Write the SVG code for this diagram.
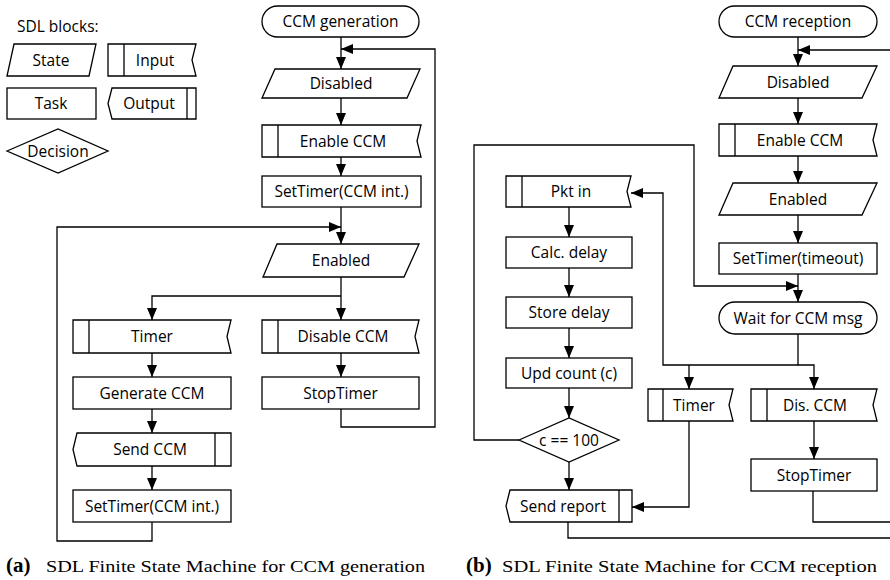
<svg xmlns="http://www.w3.org/2000/svg" width="890" height="580" viewBox="0 0 890 580">
<style>
.s{fill:#fff;stroke:#000;stroke-width:1.3;stroke-linejoin:miter}
.l{fill:none;stroke:#000;stroke-width:1.3}
.t{font-family:"Open Sans","Noto Sans","Liberation Sans",sans-serif;font-size:15.5px;fill:#000;text-anchor:middle}
.cap{font-family:"Liberation Serif","DejaVu Serif",serif;font-size:16px;fill:#000}
.capb{font-family:"Liberation Serif","DejaVu Serif",serif;font-size:21px;font-weight:bold;fill:#000}
</style>
<defs>
<marker id="ah" markerUnits="userSpaceOnUse" markerWidth="12" markerHeight="10" refX="12" refY="5" orient="auto">
<path d="M0,0 L12,5 L0,10 Z" fill="#000"/>
</marker>
</defs>
<rect width="890" height="580" fill="#fff"/>

<!-- Legend -->
<g id="legend">
<text x="17" y="32" class="t" style="text-anchor:start">SDL blocks:</text>
<g id="lg-state"><path class="s" d="M14,44 H96 L89,76 H7 Z"/><text x="51" y="65.5" class="t">State</text></g>
<g id="lg-input"><path class="s" d="M108,44 H196 L192,60 L196,76 H108 Z"/><path class="l" d="M124,44 V76"/><text x="155" y="65.5" class="t">Input</text></g>
<g id="lg-task"><rect class="s" x="7" y="88" width="89" height="31"/><text x="51" y="109" class="t">Task</text></g>
<g id="lg-output"><path class="s" d="M112,88 H196 V119 H112 L108,103.5 Z"/><path class="l" d="M187,88 V119"/><text x="149" y="109" class="t">Output</text></g>
<g id="lg-decision"><path class="s" d="M7,151 L58,129 L108,151 L58,173 Z"/><text x="58" y="156.5" class="t">Decision</text></g>
</g>

<!-- Connectors (a) -->
<g id="connectors-a">
<path class="l" d="M341,37 V69" marker-end="url(#ah)"/>
<path class="l" d="M341,409 V427 H435 V49 H341" marker-end="url(#ah)"/>
<path class="l" d="M341,98 V125" marker-end="url(#ah)"/>
<path class="l" d="M341,157 V176" marker-end="url(#ah)"/>
<path class="l" d="M341,207 V244" marker-end="url(#ah)"/>
<path class="l" d="M152,522 V541 H57 V227 H341" marker-end="url(#ah)"/>
<path class="l" d="M341,277 V320" marker-end="url(#ah)"/>
<path class="l" d="M341,296 H152 V320" marker-end="url(#ah)"/>
<path class="l" d="M152,353 V377" marker-end="url(#ah)"/>
<path class="l" d="M341,353 V377" marker-end="url(#ah)"/>
<path class="l" d="M152,409 V433" marker-end="url(#ah)"/>
<path class="l" d="M152,466 V490" marker-end="url(#ah)"/>
</g>

<!-- Nodes (a) -->
<g id="a-start"><rect class="s" x="262" y="6" width="157" height="31" rx="15.5"/><text x="340.5" y="27" class="t">CCM generation</text></g>
<g id="a-disabled"><path class="s" d="M275,69 H420 L407,98 H262 Z"/><text x="341" y="89" class="t">Disabled</text></g>
<g id="a-enable"><path class="s" d="M262,125 H421 L417,141 L421,157 H262 Z"/><path class="l" d="M278,125 V157"/><text x="343" y="146.5" class="t">Enable CCM</text></g>
<g id="a-settimer1"><rect class="s" x="262" y="176" width="159" height="31"/><text x="341.5" y="197" class="t">SetTimer(CCM int.)</text></g>
<g id="a-enabled"><path class="s" d="M277,244 H419 L404,277 H263 Z"/><text x="341" y="266" class="t">Enabled</text></g>
<g id="a-timer"><path class="s" d="M73,320 H231 L227,336.5 L231,353 H73 Z"/><path class="l" d="M89,320 V353"/><text x="152" y="342" class="t">Timer</text></g>
<g id="a-disable"><path class="s" d="M262,320 H419 L415,336.5 L419,353 H262 Z"/><path class="l" d="M278,320 V353"/><text x="343" y="342" class="t">Disable CCM</text></g>
<g id="a-generate"><rect class="s" x="73" y="377" width="158" height="32"/><text x="152" y="398.5" class="t">Generate CCM</text></g>
<g id="a-stoptimer"><rect class="s" x="262" y="377" width="157" height="32"/><text x="340.5" y="398.5" class="t">StopTimer</text></g>
<g id="a-send"><path class="s" d="M77,433 H231 V466 H77 L73,449.5 Z"/><path class="l" d="M215,433 V466"/><text x="150" y="455" class="t">Send CCM</text></g>
<g id="a-settimer2"><rect class="s" x="73" y="490" width="158" height="32"/><text x="152" y="511.5" class="t">SetTimer(CCM int.)</text></g>

<!-- Connectors (b) -->
<g id="connectors-b">
<path class="l" d="M798,37 V66" marker-end="url(#ah)"/>
<path class="l" d="M890,50 H798" marker-end="url(#ah)"/>
<path class="l" d="M798,98 V124" marker-end="url(#ah)"/>
<path class="l" d="M798,156 V183" marker-end="url(#ah)"/>
<path class="l" d="M798,215 V243" marker-end="url(#ah)"/>
<path class="l" d="M798,274 V302" marker-end="url(#ah)"/>
<path class="l" d="M519,440 H474 V145 H694 V286 H798" marker-end="url(#ah)"/>
<path class="l" d="M798,334 V365 H663 V193 H631" marker-end="url(#ah)"/>
<path class="l" d="M689,365 V389" marker-end="url(#ah)"/>
<path class="l" d="M798,365 H814 V389" marker-end="url(#ah)"/>
<path class="l" d="M814,421 V459" marker-end="url(#ah)"/>
<path class="l" d="M813,491 V522 H890"/>
<path class="l" d="M689,421 V507 H632" marker-end="url(#ah)"/>
<path class="l" d="M569,207 V237" marker-end="url(#ah)"/>
<path class="l" d="M569,268 V297" marker-end="url(#ah)"/>
<path class="l" d="M569,328 V358" marker-end="url(#ah)"/>
<path class="l" d="M569,388 V418" marker-end="url(#ah)"/>
<path class="l" d="M569,462 V490" marker-end="url(#ah)"/>
<path class="l" d="M568,522 V538 H890"/>
</g>

<!-- Nodes (b) -->
<g id="b-start"><rect class="s" x="719" y="6" width="158" height="31" rx="15.5"/><text x="798" y="27" class="t">CCM reception</text></g>
<g id="b-disabled"><path class="s" d="M733,66 H877 L862,98 H719 Z"/><text x="798" y="87.5" class="t">Disabled</text></g>
<g id="b-enable"><path class="s" d="M719,124 H877 L873,140 L877,156 H719 Z"/><path class="l" d="M735,124 V156"/><text x="800" y="145.5" class="t">Enable CCM</text></g>
<g id="b-enabled"><path class="s" d="M733,183 H877 L862,215 H719 Z"/><text x="798" y="204.5" class="t">Enabled</text></g>
<g id="b-settimer"><rect class="s" x="719" y="243" width="158" height="31"/><text x="798" y="264" class="t">SetTimer(timeout)</text></g>
<g id="b-wait"><rect class="s" x="719" y="302" width="158" height="32" rx="16"/><text x="798" y="323.5" class="t">Wait for CCM msg</text></g>
<g id="b-pktin"><path class="s" d="M506,176 H631 L627,191.5 L631,207 H506 Z"/><path class="l" d="M522,176 V207"/><text x="571" y="197" class="t">Pkt in</text></g>
<g id="b-calc"><rect class="s" x="506" y="237" width="126" height="31"/><text x="569" y="258" class="t">Calc. delay</text></g>
<g id="b-store"><rect class="s" x="506" y="297" width="126" height="31"/><text x="569" y="318" class="t">Store delay</text></g>
<g id="b-upd"><rect class="s" x="506" y="358" width="126" height="30"/><text x="569" y="378.5" class="t">Upd count (c)</text></g>
<g id="b-decision"><path class="s" d="M519,440 L569,418 L619,440 L569,462 Z"/><text x="569" y="445.5" class="t">c == 100</text></g>
<g id="b-send"><path class="s" d="M510,490 H632 V522 H510 L506,506 Z"/><path class="l" d="M619,490 V522"/><text x="563" y="511.5" class="t">Send report</text></g>
<g id="b-timer"><path class="s" d="M648,389 H733 L729,405 L733,421 H648 Z"/><path class="l" d="M663,389 V421"/><text x="694" y="410.5" class="t">Timer</text></g>
<g id="b-discm"><path class="s" d="M751,389 H877 L873,405 L877,421 H751 Z"/><path class="l" d="M767,389 V421"/><text x="815" y="410.5" class="t">Dis. CCM</text></g>
<g id="b-stoptimer"><rect class="s" x="751" y="459" width="126" height="32"/><text x="814" y="480.5" class="t">StopTimer</text></g>

<!-- Captions -->
<text x="6" y="572" class="capb">(a)</text>
<text x="46" y="572" class="cap" textLength="379" lengthAdjust="spacingAndGlyphs">SDL Finite State Machine for CCM generation</text>
<text x="466" y="572" class="capb">(b)</text>
<text x="502" y="572" class="cap" textLength="375" lengthAdjust="spacingAndGlyphs">SDL Finite State Machine for CCM reception</text>
</svg>
